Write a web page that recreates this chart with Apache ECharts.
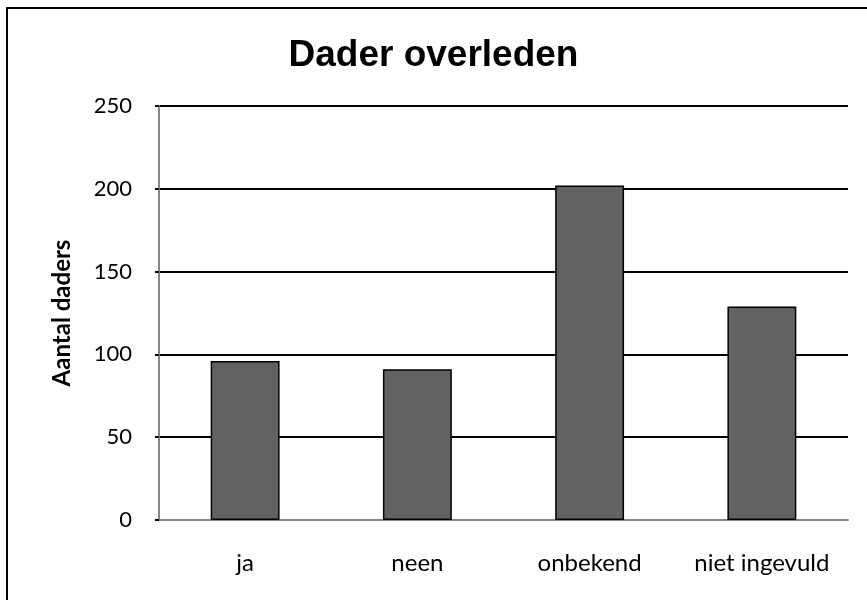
<!DOCTYPE html>
<html>
<head>
<meta charset="utf-8">
<script src="https://cdn.jsdelivr.net/npm/echarts@6/dist/echarts.min.js"></script>
<style>
  html, body { margin: 0; padding: 0; background: #fff; }
  #chart { width: 867px; height: 600px; }
</style>
</head>
<body>
<div id="chart"></div>
<script>
// categorieen en aantallen
let categories = ['ja', 'neen', 'onbekend', 'niet ingevuld'];
let aantallen = [96, 91, 202, 129];
let yTicks = [0, 50, 100, 150, 200, 250];

let chart = echarts.init(document.getElementById('chart'));

let option = {
  backgroundColor: '#fff',
  animation: false,
  title: {
    text: 'Dader overleden',
    left: 'center',
    top: 32,
    textStyle: {
      fontFamily: 'Liberation Sans',
      fontWeight: 'bold',
      fontSize: 37,
      color: '#000'
    }
  },
  graphic: [
    {
      type: 'rect',
      shape: { x: 7, y: 8, width: 880, height: 620 },
      style: { fill: 'none', stroke: '#000', lineWidth: 2 },
      silent: true
    }
  ],
  grid: {
    left: 159,
    right: 19,
    top: 106,
    bottom: 80
  },
  xAxis: {
    type: 'category',
    data: categories,
    axisLine: { lineStyle: { color: '#868686', width: 2 } },
    axisTick: { show: false },
    axisLabel: {
      interval: 0,
      hideOverlap: false,
      fontFamily: 'Lato',
      fontSize: 24,
      color: '#000',
      margin: 31
    }
  },
  yAxis: {
    type: 'value',
    min: yTicks[0],
    max: yTicks[yTicks.length - 1],
    interval: 50,
    name: 'Aantal daders',
    nameLocation: 'middle',
    nameGap: 85,
    nameTextStyle: {
      fontFamily: 'Lato',
      fontWeight: 'bold',
      fontSize: 24,
      color: '#000'
    },
    axisLine: { show: true, lineStyle: { color: '#868686', width: 2 } },
    axisTick: { show: true, length: 4, lineStyle: { color: '#000', width: 2 } },
    splitLine: { lineStyle: { color: '#000', width: 2 } },
    axisLabel: {
      fontFamily: 'Lato',
      fontSize: 22,
      color: '#000',
      margin: 27
    }
  },
  series: [
    {
      type: 'bar',
      data: aantallen,
      barWidth: '40%',
      itemStyle: {
        color: '#626262',
        borderColor: '#000',
        borderWidth: 1.5
      }
    }
  ]
};

chart.setOption(option);
</script>
</body>
</html>
